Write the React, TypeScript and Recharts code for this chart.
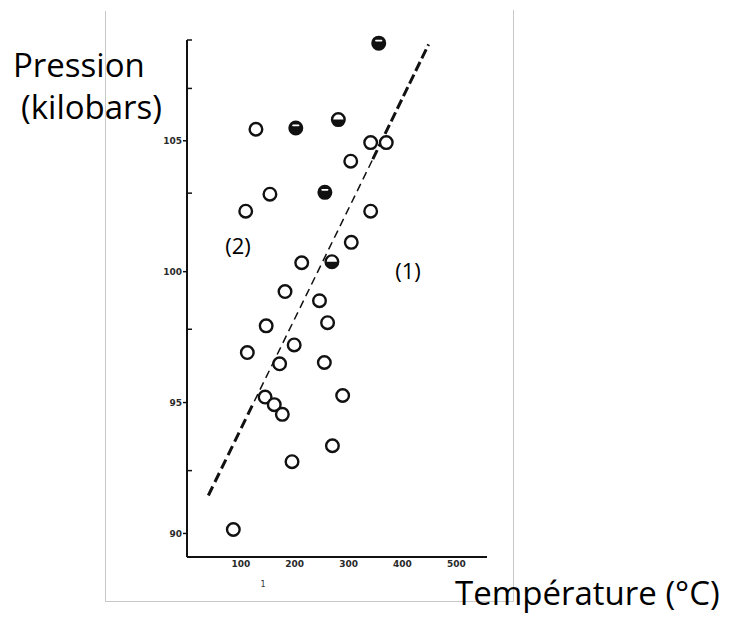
import { ScatterChart, Scatter, XAxis, YAxis, ReferenceLine } from "recharts";

// temperature (°C) / pressure (kilobars)
const openPoints = [
  { t: 128, p: 105.44 },
  { t: 109, p: 102.31 },
  { t: 154, p: 102.96 },
  { t: 341, p: 104.93 },
  { t: 370, p: 104.93 },
  { t: 304, p: 104.22 },
  { t: 341, p: 102.31 },
  { t: 305, p: 101.12 },
  { t: 213, p: 100.34 },
  { t: 182, p: 99.24 },
  { t: 246, p: 98.89 },
  { t: 147, p: 97.93 },
  { t: 261, p: 98.05 },
  { t: 199, p: 97.2 },
  { t: 112, p: 96.91 },
  { t: 172, p: 96.48 },
  { t: 255, p: 96.53 },
  { t: 289, p: 95.27 },
  { t: 145, p: 95.21 },
  { t: 162, p: 94.92 },
  { t: 177, p: 94.55 },
  { t: 270, p: 93.35 },
  { t: 195, p: 92.74 },
  { t: 86, p: 90.15 },
];

const halfPoints = [
  { t: 281, p: 105.81 },
  { t: 269, p: 100.38 },
];

const filledPoints = [
  { t: 202, p: 105.49 },
  { t: 356, p: 108.73 },
  { t: 256, p: 103.03 },
];

// dashed boundary (1)/(2): thick at both ends, thinner in the middle
const fitLow = [
  { x: 39.6, y: 91.45 },
  { x: 125, y: 95.05 },
];
const fitMid = [
  { x: 125, y: 95.05 },
  { x: 345, y: 104.3 },
];
const fitHigh = [
  { x: 345, y: 104.3 },
  { x: 448.5, y: 108.68 },
];

const xTicks = [100, 200, 300, 400, 500];
const yTicks = [90, 92.4, 95, 97.8, 100, 103, 105, 107, 108.85];
const yLabelled = [90, 95, 100, 105];

const INK = "#111";
const R = 6.3;
const tickFont = { fontFamily: "DejaVu Sans", fontSize: 9, fontWeight: 700, fill: "#2a2a2a" };

function YTick(props: any) {
  const { x, y, payload } = props;
  const v = payload.value;
  if (yLabelled.includes(v)) {
    return (
      <g>
        <line x1={x - 4} x2={x} y1={y} y2={y} stroke={INK} strokeWidth={1.5} />
        <text x={x - 5} y={y} dy={3.3} textAnchor="end" {...tickFont}>
          {v}
        </text>
      </g>
    );
  }
  return <line x1={x} x2={x + 5} y1={y} y2={y} stroke={INK} strokeWidth={1.5} />;
}

function XTick(props: any) {
  const { x, y, payload } = props;
  return (
    <text x={x} y={y + 10} textAnchor="middle" {...tickFont}>
      {payload.value}
    </text>
  );
}

function OpenMark(props: any) {
  const { cx, cy } = props;
  return <circle cx={cx} cy={cy} r={R} fill="#fff" stroke={INK} strokeWidth={2.4} />;
}

function HalfMark(props: any) {
  const { cx, cy } = props;
  return (
    <g>
      <circle cx={cx} cy={cy} r={R} fill="#fff" stroke={INK} strokeWidth={2.4} />
      <path d={`M${cx - R},${cy} A${R},${R} 0 0 0 ${cx + R},${cy} Z`} fill={INK} />
    </g>
  );
}

function FilledMark(props: any) {
  const { cx, cy } = props;
  return (
    <g>
      <circle cx={cx} cy={cy} r={R} fill={INK} stroke={INK} strokeWidth={2.4} />
      <rect x={cx - 3.6} y={cy - 3.4} width={7.2} height={1.7} rx={0.8} fill="#fff" />
    </g>
  );
}

const bigText = { fontFamily: "Open Sans", fontSize: 33, fill: "#000" };

export default function App() {
  return (
    <div style={{ position: "absolute", left: 0, top: 0, width: 731, height: 617, background: "#fff" }}>
      {/* frame of the scanned figure */}
      <div style={{ position: "absolute", left: 105, top: 11, width: 1, height: 590, background: "#c8c8c8" }} />
      <div style={{ position: "absolute", left: 513, top: 10, width: 1, height: 591, background: "#c8c8c8" }} />
      <div style={{ position: "absolute", left: 105, top: 601, width: 409, height: 1, background: "#c8c8c8" }} />

      <div style={{ position: "absolute", left: 0, top: 0 }}>
        <ScatterChart width={731} height={617} margin={{ top: 40, right: 244, bottom: 40, left: 147 }}>
          <XAxis
            type="number"
            dataKey="t"
            domain={[0, 557]}
            ticks={xTicks}
            interval={0}
            tickSize={0}
            tickMargin={0}
            tickLine={false}
            tick={<XTick />}
            height={20}
            axisLine={{ stroke: INK, strokeWidth: 2 }}
          />
          <YAxis
            type="number"
            dataKey="p"
            domain={[89.1, 108.85]}
            ticks={yTicks}
            interval={0}
            tickSize={0}
            tickMargin={0}
            tickLine={false}
            tick={<YTick />}
            width={40}
            axisLine={{ stroke: INK, strokeWidth: 2 }}
          />
          <ReferenceLine segment={fitLow} stroke={INK} strokeWidth={3} strokeDasharray="10 5" />
          <ReferenceLine segment={fitMid} stroke={INK} strokeWidth={1.5} strokeDasharray="8 5" />
          <ReferenceLine segment={fitHigh} stroke={INK} strokeWidth={3} strokeDasharray="10 4" />
          <Scatter data={openPoints} shape={OpenMark} isAnimationActive={false} />
          <Scatter data={halfPoints} shape={HalfMark} isAnimationActive={false} />
          <Scatter data={filledPoints} shape={FilledMark} isAnimationActive={false} />
        </ScatterChart>
      </div>

      <svg width={731} height={617} style={{ position: "absolute", left: 0, top: 0, pointerEvents: "none" }}>
        <text x={13} y={77} {...bigText}>Pression</text>
        <text x={21} y={119} {...bigText}>(kilobars)</text>
        <text x={455} y={605} {...bigText}>Température (°C)</text>
        <text x={238} y={253.5} textAnchor="middle" fontFamily="Open Sans" fontSize={22} fill="#000">(2)</text>
        <text x={408} y={279} textAnchor="middle" fontFamily="Open Sans" fontSize={22} fill="#000">(1)</text>
        <text x={263} y={587} textAnchor="middle" fontFamily="DejaVu Sans" fontSize={8} fill="#333">1</text>
      </svg>
    </div>
  );
}
